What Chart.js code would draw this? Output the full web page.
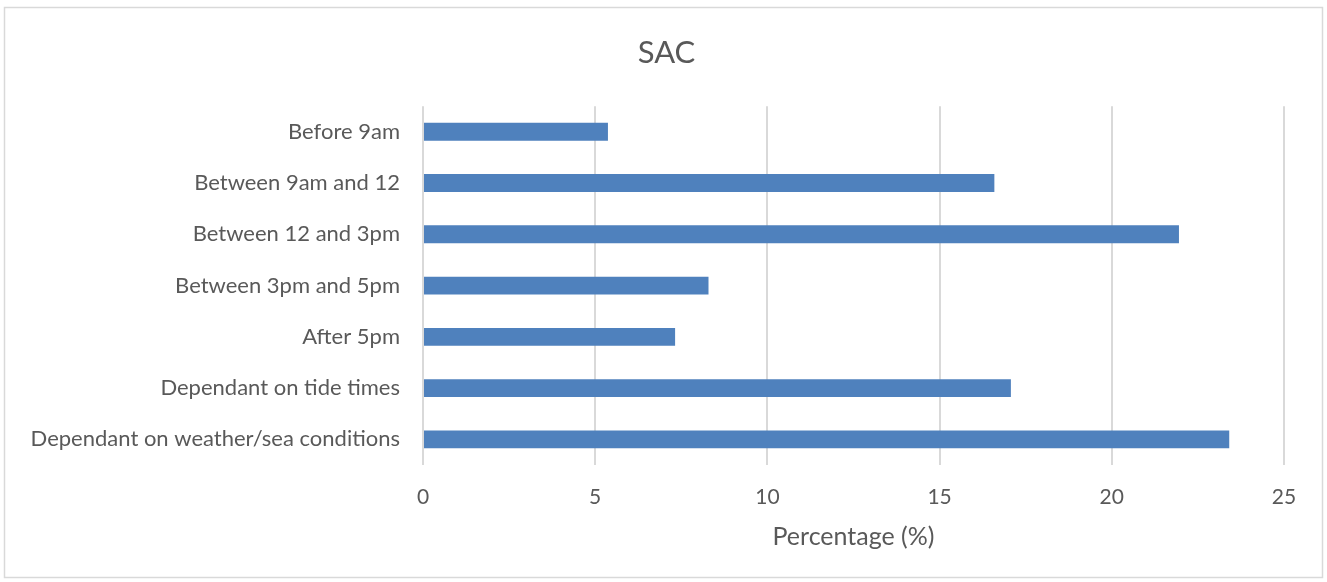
<!DOCTYPE html>
<html>
<head>
<meta charset="utf-8">
<script src="https://cdn.jsdelivr.net/npm/chart.js@4.4.1/dist/chart.umd.min.js"></script>
<style>
  html, body { margin: 0; padding: 0; background: #ffffff; }
  #wrap { width: 1327px; height: 582px; position: relative; }
</style>
</head>
<body>
<div id="wrap"><canvas id="c" width="1327" height="582"></canvas></div>
<script>
const categories = [
  "Before 9am",
  "Between 9am and 12",
  "Between 12 and 3pm",
  "Between 3pm and 5pm",
  "After 5pm",
  "Dependant on tide times",
  "Dependant on weather/sea conditions"
];
const percentages = [5.37, 16.59, 21.95, 8.29, 7.32, 17.07, 23.41];
const xTicks = [0, 5, 10, 15, 20, 25];
const chartTitle = "SAC";
const xAxisTitle = "Percentage (%)";

const FONT = "Lato, 'Open Sans', sans-serif";
const TEXT = "#595959";
const GRID = "#d9d9d9";

const borderPlugin = {
  id: 'outerBorder',
  beforeDraw(chart) {
    const ctx = chart.ctx;
    ctx.save();
    ctx.fillStyle = '#ffffff';
    ctx.fillRect(0, 0, chart.width, chart.height);
    ctx.strokeStyle = GRID;
    ctx.lineWidth = 1.5;
    ctx.strokeRect(4.5, 7.5, chart.width - 9, chart.height - 12);
    ctx.restore();
  }
};

new Chart(document.getElementById('c'), {
  type: 'bar',
  data: {
    labels: categories,
    datasets: [{
      data: percentages,
      backgroundColor: '#4f81bd',
      borderColor: '#4f81bd',
      borderWidth: 0,
      barPercentage: 0.35,
      categoryPercentage: 1.0
    }]
  },
  options: {
    indexAxis: 'y',
    responsive: false,
    animation: false,
    devicePixelRatio: 1,
    layout: { padding: { top: 30, right: 22, bottom: 30, left: 28 } },
    plugins: {
      legend: { display: false },
      tooltip: { enabled: false },
      title: {
        display: true,
        text: chartTitle,
        color: TEXT,
        font: { family: FONT, size: 31, weight: 'normal' },
        padding: { top: 4, bottom: 35 }
      }
    },
    scales: {
      x: {
        min: 0,
        max: 25,
        afterBuildTicks(axis) { axis.ticks = xTicks.map(v => ({ value: v })); },
        afterFit(scale) { scale.height = 87; scale.paddingRight = 43; },
        grid: { color: GRID, lineWidth: 2, drawTicks: false },
        border: { display: false },
        ticks: { color: TEXT, font: { family: FONT, size: 21 }, padding: 20, maxRotation: 0 },
        title: {
          display: true,
          text: xAxisTitle,
          color: TEXT,
          font: { family: FONT, size: 25 },
          padding: { top: 0, bottom: 0 }
        }
      },
      y: {
        afterFit(scale) { scale.width = 423 - 28; },
        grid: { display: false, drawTicks: false },
        border: { display: false },
        ticks: { color: TEXT, font: { family: FONT, size: 22 }, padding: 23 }
      }
    }
  },
  plugins: [borderPlugin]
});
</script>
</body>
</html>
